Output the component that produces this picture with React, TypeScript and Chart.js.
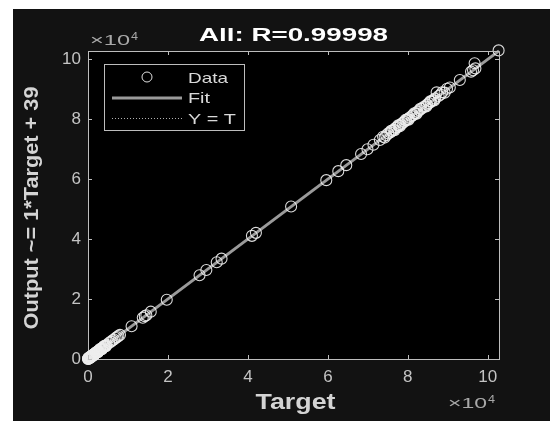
import React, { useEffect, useRef } from "react";
import { Chart, registerables } from "chart.js";

Chart.register(...registerables);

const targets = [
  0, 40, 90, 150, 210, 280, 350, 430, 510, 600,
  690, 780, 870, 960, 1060, 1160, 1260, 1370, 1480, 1590,
  1700, 1820, 1940, 2060, 2180, 2310, 2440, 2580, 2720, 2870,
  3020, 3180, 3340, 3510, 3680, 3860, 4050, 4250, 4460, 4680,
  100, 300, 500, 800, 1100, 1500, 2000, 2500, 3000, 3500, 4000, 4500,
  5300, 5750, 6150, 6500, 6900, 7250, 7600, 8000,
  10900, 13700, 14200, 14600, 15700,
  19700,
  27900, 29600, 32200, 33400,
  41000, 42000,
  50800,
  59600,
  62600, 64600,
  68300, 69900, 71400, 73000,
  74600, 75100, 75600, 76000, 76400, 76900, 77300, 77800, 78200, 78700,
  79100, 79600, 80000, 80400, 80900, 81300,
  81900, 82400, 82900, 83400, 83900, 84300, 84800, 85300, 85800, 86300,
  86800, 87200, 87700, 88200,
  73800, 74200, 75800, 76700, 77600, 78000, 79400, 80200, 81600, 82200,
  83100, 84600, 85600, 86600, 88600, 89200, 89800,
  90500, 93000, 95800, 96300, 96700, 96900, 102700,
];
const outputs = [
  30, 90, 120, 200, 230, 330, 380, 480, 540, 650,
  720, 830, 900, 1010, 1090, 1210, 1290, 1420, 1510, 1640,
  1730, 1870, 1970, 2110, 2210, 2360, 2470, 2630, 2750, 2920,
  3050, 3230, 3370, 3560, 3710, 3910, 4080, 4300, 4490, 4730,
  300, 160, 700, 600, 1350, 1300, 2250, 2300, 3300, 3300, 4300, 4300,
  5400, 5800, 6250, 6500, 7000, 7300, 7700, 8050,
  10950, 13750, 14300, 14600, 15800,
  19800,
  27950, 29700, 32300, 33500,
  41100, 42100,
  50900,
  59700,
  62700, 64700,
  68400, 70000, 71500, 73100,
  74700, 75300, 75600, 76100, 76500, 77100, 77300, 77900, 78300, 78800,
  79200, 79700, 80100, 80500, 81000, 81400,
  82000, 82500, 83000, 83500, 84100, 84300, 84900, 85400, 85900, 86400,
  86900, 89000, 87800, 88300,
  74200, 73900, 76200, 76400, 78000, 77700, 79800, 79900, 82000, 81900,
  83500, 84300, 86000, 86300, 89000, 88900, 90200,
  90600, 93100, 95900, 96400, 98700, 97000, 103000,
];
const fitSlope = 1;
const fitIntercept = 39;
const lineRange = [0, 102800];
const axisMin = 0;
const axisMax = 102800;
const tickValues = [0, 20000, 40000, 60000, 80000, 100000];
const titleText = "All: R=0.99998";
const xTitle = "Target";
const yTitle = "Output ~= 1*Target + 39";
const seriesLabels = ["Data", "Fit", "Y = T"];

// ---- layout / style ----
const W = 537;
const H = 412;
const AREA = { left: 75, right: 486, top: 42, bottom: 350 };
const FAMILY = "'Liberation Sans', Arial, Helvetica, sans-serif";
const AXIS_COLOR = "#bdbdbd";
const TICK_LABEL = "#c4c4c4";

function drawStretched(
  ctx: CanvasRenderingContext2D,
  text: string,
  x: number,
  y: number,
  font: string,
  color: string,
  targetWidth: number,
  align: CanvasTextAlign,
  rotate = false
) {
  ctx.save();
  ctx.font = font;
  const w = ctx.measureText(text).width || 1;
  const sx = targetWidth / w;
  ctx.translate(x, y);
  if (rotate) ctx.rotate(-Math.PI / 2);
  ctx.scale(sx, 1);
  ctx.fillStyle = color;
  ctx.textAlign = align;
  ctx.textBaseline = "alphabetic";
  ctx.fillText(text, 0, 0);
  ctx.restore();
}

const decor = {
  id: "decor",
  beforeDraw(chart: any) {
    const { ctx, chartArea: a } = chart;
    ctx.save();
    ctx.fillStyle = "#121212";
    ctx.fillRect(0, 0, chart.width, chart.height);
    ctx.fillStyle = "#000000";
    ctx.fillRect(a.left, a.top, a.right - a.left, a.bottom - a.top);
    ctx.restore();
  },
  afterDraw(chart: any) {
    const { ctx, chartArea: a } = chart;
    const xs = chart.scales.x;
    const ys = chart.scales.y;
    ctx.save();
    ctx.strokeStyle = AXIS_COLOR;
    ctx.lineWidth = 1;
    ctx.beginPath();
    ctx.moveTo(Math.round(a.left) + 0.5, Math.round(a.top) + 0.5);
    ctx.lineTo(Math.round(a.right) + 0.5, Math.round(a.top) + 0.5);
    ctx.lineTo(Math.round(a.right) + 0.5, Math.round(a.bottom) + 0.5);
    ctx.stroke();
    const tl = 4;
    ctx.beginPath();
    for (const t of xs.ticks) {
      const px = Math.round(xs.getPixelForValue(t.value)) + 0.5;
      ctx.moveTo(px, a.bottom);
      ctx.lineTo(px, a.bottom - tl);
      ctx.moveTo(px, a.top);
      ctx.lineTo(px, a.top + tl);
    }
    for (const t of ys.ticks) {
      const py = Math.round(ys.getPixelForValue(t.value)) + 0.5;
      ctx.moveTo(a.left, py);
      ctx.lineTo(a.left + tl, py);
      ctx.moveTo(a.right, py);
      ctx.lineTo(a.right - tl, py);
    }
    ctx.stroke();
    ctx.restore();

    drawStretched(ctx, titleText, (a.left + a.right) / 2, 32, `bold 19px ${FAMILY}`, "#ffffff", 189, "center");
    drawStretched(ctx, xTitle, (a.left + a.right) / 2 + 2, 400, `bold 22px ${FAMILY}`, "#d4d4d4", 80, "center");
    drawStretched(ctx, yTitle, 25, (a.top + a.bottom) / 2 + 3, `bold 21px ${FAMILY}`, "#d4d4d4", 243, "center", true);

    drawStretched(ctx, "\u00d710", 77, 36, `14px ${FAMILY}`, "#a8a8a8", 40, "left");
    drawStretched(ctx, "4", 118, 31, `10px ${FAMILY}`, "#a8a8a8", 7, "left");
    drawStretched(ctx, "\u00d710", 435, 399, `14px ${FAMILY}`, "#a8a8a8", 39, "left");
    drawStretched(ctx, "4", 475, 394, `10px ${FAMILY}`, "#a8a8a8", 7, "left");

    const ds = chart.data.datasets;
    ctx.save();
    ctx.fillStyle = "#000000";
    ctx.fillRect(91.5, 55.5, 140, 66);
    ctx.strokeStyle = AXIS_COLOR;
    ctx.lineWidth = 1;
    ctx.strokeRect(91.5, 55.5, 140, 66);
    ctx.strokeStyle = "rgba(235,235,235,0.95)";
    ctx.beginPath();
    ctx.arc(134, 68, 5, 0, Math.PI * 2);
    ctx.stroke();
    ctx.strokeStyle = ds[1].borderColor;
    ctx.lineWidth = 3;
    ctx.beginPath();
    ctx.moveTo(99, 89);
    ctx.lineTo(169, 89);
    ctx.stroke();
    ctx.strokeStyle = "#b0b0b0";
    ctx.lineWidth = 1;
    ctx.setLineDash([1, 2]);
    ctx.beginPath();
    ctx.moveTo(99, 109.5);
    ctx.lineTo(169, 109.5);
    ctx.stroke();
    ctx.setLineDash([]);
    ctx.restore();
    drawStretched(ctx, ds[0].label, 175, 74, `15px ${FAMILY}`, "#d9d9d9", 40, "left");
    drawStretched(ctx, ds[1].label, 175, 94, `15px ${FAMILY}`, "#d9d9d9", 22, "left");
    drawStretched(ctx, ds[2].label, 175, 115, `15px ${FAMILY}`, "#d9d9d9", 48, "left");
  },
};

export default function App() {
  const ref = useRef<HTMLCanvasElement | null>(null);
  useEffect(() => {
    if (!ref.current) return;
    const points = targets.map((t, i) => ({ x: t, y: outputs[i] }));
    const fitPts = lineRange.map((t) => ({ x: t, y: fitSlope * t + fitIntercept }));
    const idPts = lineRange.map((t) => ({ x: t, y: t }));
    const tickFont = { family: FAMILY, size: 17 };
    const setTicks = (s: any) => {
      s.ticks = tickValues.map((v) => ({ value: v }));
    };
    const chart = new Chart(ref.current, {
      type: "scatter",
      data: {
        datasets: [
          {
            label: seriesLabels[0],
            data: points,
            pointStyle: "circle",
            pointRadius: 5.5,
            borderWidth: 1.1,
            borderColor: "rgba(238,238,238,0.92)",
            backgroundColor: "rgba(0,0,0,0)",
            clip: false,
          } as any,
          {
            label: seriesLabels[1],
            data: fitPts,
            showLine: true,
            pointRadius: 0,
            borderColor: "#9a9a9a",
            borderWidth: 3,
            clip: false,
          } as any,
          {
            label: seriesLabels[2],
            data: idPts,
            showLine: true,
            pointRadius: 0,
            borderColor: "#b0b0b0",
            borderWidth: 1,
            borderDash: [1, 2],
          } as any,
        ],
      },
      options: {
        animation: false,
        responsive: false,
        devicePixelRatio: 1,
        events: [],
        layout: { padding: { left: 0, right: W - AREA.right, top: AREA.top, bottom: 0 } },
        plugins: { legend: { display: false }, title: { display: false }, tooltip: { enabled: false } },
        scales: {
          x: {
            type: "linear",
            position: "bottom",
            min: axisMin,
            max: axisMax,
            afterBuildTicks: setTicks,
            afterFit: (s: any) => {
              s.height = H - AREA.bottom;
            },
            ticks: {
              autoSkip: false,
              maxRotation: 0,
              color: TICK_LABEL,
              font: tickFont,
              padding: 8,
              callback: (v: any) => String(Number(v) / 10000),
            },
            grid: { display: true, drawOnChartArea: false, drawTicks: false },
            border: { display: true, color: AXIS_COLOR, width: 1 },
          },
          y: {
            type: "linear",
            min: axisMin,
            max: axisMax,
            afterBuildTicks: setTicks,
            afterFit: (s: any) => {
              s.width = AREA.left;
            },
            ticks: {
              autoSkip: false,
              color: TICK_LABEL,
              font: tickFont,
              padding: 7,
              callback: (v: any) => String(Number(v) / 10000),
            },
            grid: { display: true, drawOnChartArea: false, drawTicks: false },
            border: { display: true, color: AXIS_COLOR, width: 1 },
          },
        },
      } as any,
      plugins: [decor],
    });
    return () => chart.destroy();
  }, []);
  return (
    <div
      style={{
        position: "absolute",
        left: 13,
        top: 9,
        width: W,
        height: H,
        background: "#121212",
      }}
    >
      <canvas ref={ref} width={W} height={H} style={{ display: "block", width: W, height: H }} />
    </div>
  );
}
